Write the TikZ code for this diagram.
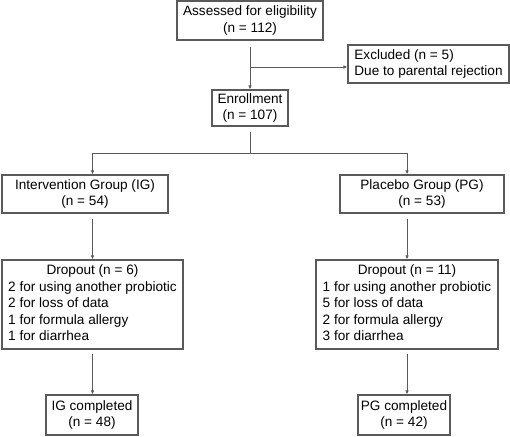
\documentclass[tikz,border=0pt]{standalone}
\usepackage{fontspec}
\setmainfont{Liberation Sans}
\usetikzlibrary{arrows.meta}
\definecolor{linegray}{HTML}{5A5A5A}
\begin{document}
\begin{tikzpicture}[x=1pt,y=-1pt,
  box/.style={draw=linegray, line width=1.1pt, inner sep=0pt, font=\fontsize{13.6}{16.5}\selectfont, text=black},
  arr/.style={draw=linegray, line width=1pt, -{Latex[length=4pt,width=3.5pt]}},
  ln/.style={draw=linegray, line width=1pt}]
\useasboundingbox (0,0) rectangle (510,436);
\node[box, minimum width=146pt, minimum height=39pt, align=center] (assess) at (250,20.5) {Assessed for eligibility\\(n = 112)};
\node[box, minimum width=161pt, minimum height=38pt, align=left] (excl) at (428.5,64) {Excluded (n = 5)\\Due to parental rejection};
\node[box, minimum width=76pt, minimum height=36pt, align=center] (enroll) at (250,108) {Enrollment\\(n = 107)};
\node[box, minimum width=166pt, minimum height=38pt, align=center] (ig) at (85,194) {Intervention Group (IG)\\(n = 54)};
\node[box, minimum width=164pt, minimum height=38pt, align=center] (pg) at (422,194) {Placebo Group (PG)\\(n = 53)};
\node[box, minimum width=181pt, minimum height=89pt] (dig) at (92.5,304.5) {\begin{tabular}{@{}l@{}}\multicolumn{1}{@{}c@{}}{Dropout (n = 6)}\\2 for using another probiotic\\2 for loss of data\\1 for formula allergy\\1 for diarrhea\end{tabular}};
\node[box, minimum width=182pt, minimum height=89pt] (dpg) at (407,304.5) {\begin{tabular}{@{}l@{}}\multicolumn{1}{@{}c@{}}{Dropout (n = 11)}\\1 for using another probiotic\\5 for loss of data\\2 for formula allergy\\3 for diarrhea\end{tabular}};
\node[box, minimum width=92pt, minimum height=40pt, align=center] (cig) at (92,415) {IG completed\\(n = 48)};
\node[box, minimum width=92pt, minimum height=40pt, align=center] (cpg) at (404,415) {PG completed\\(n = 42)};
\coordinate (j1) at (250,67);
\coordinate (j2) at (250,153);
% connectors
\draw[arr, shorten <=6pt] (assess.south) -- (enroll.north);
\draw[arr] (j1) -- (excl.west |- j1);
\draw[ln, shorten <=5pt] (enroll.south) -- (j2);
\draw[arr] (j2) -| (ig.north -| dig.north);
\draw[arr] (j2) -| (pg.north -| dpg.north);
\draw[arr, shorten <=5pt] (ig.south -| dig.north) -- (dig.north);
\draw[arr, shorten <=5pt] (pg.south -| dpg.north) -- (dpg.north);
\draw[arr, shorten <=4pt] (dig.south) -- (cig.north -| dig.south);
\draw[arr, shorten <=4pt] (dpg.south) -- (cpg.north -| dpg.south);
\end{tikzpicture}
\end{document}
